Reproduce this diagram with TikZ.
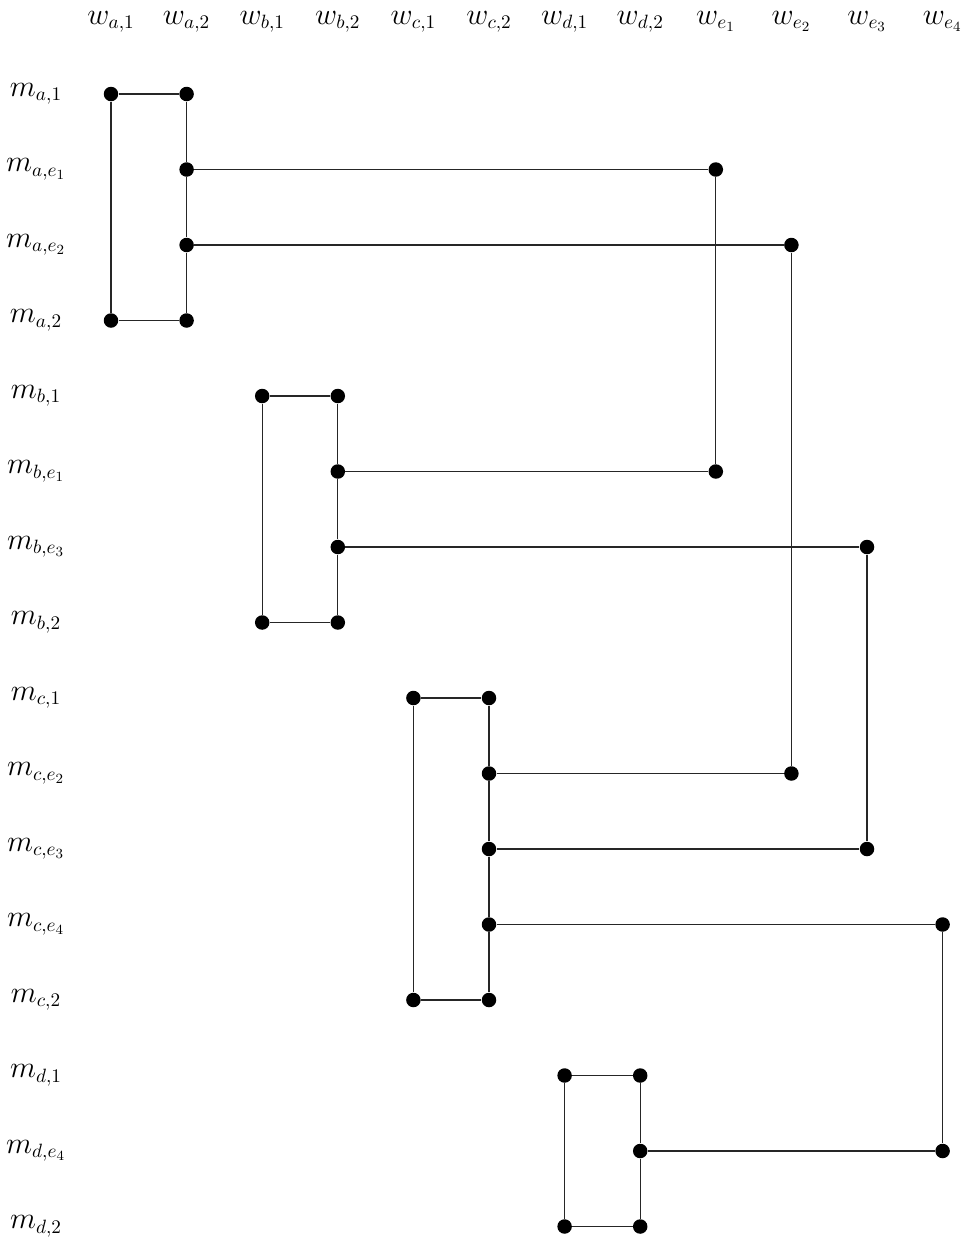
\documentclass[tikz,border=0pt]{standalone}
\begin{document}
\begin{tikzpicture}[x=0.02cm,y=-0.02cm,
  dotnode/.style={circle,fill=black,inner sep=0pt,minimum size=0.29cm},
  edge/.style={draw=black!85,line width=0.6pt},
  lbl/.style={inner sep=0pt,font=\fontsize{16}{19}\selectfont}]
\useasboundingbox (0,0) rectangle (971,1242);
% column labels
\foreach \i/\t in {0/{w_{a,1}},1/{w_{a,2}},2/{w_{b,1}},3/{w_{b,2}},4/{w_{c,1}},5/{w_{c,2}},6/{w_{d,1}},7/{w_{d,2}},8/{w_{e_1}},9/{w_{e_2}},10/{w_{e_3}},11/{w_{e_4}}}
  \node[lbl,anchor=base] (c\i) at ({111+75.6*\i},24) {$\t$};
% row labels
\foreach \j/\t in {0/{m_{a,1}},1/{m_{a,e_1}},2/{m_{a,e_2}},3/{m_{a,2}},4/{m_{b,1}},5/{m_{b,e_1}},6/{m_{b,e_3}},7/{m_{b,2}},8/{m_{c,1}},9/{m_{c,e_2}},10/{m_{c,e_3}},11/{m_{c,e_4}},12/{m_{c,2}},13/{m_{d,1}},14/{m_{d,e_4}},15/{m_{d,2}}}
  \node[lbl] (r\j) at (36,{94+75.5*\j}) {$\t$};
% dots: column/row
\foreach \i/\j in {0/0,1/0,1/1,1/2,0/3,1/3,8/1,9/2,
                   2/4,3/4,3/5,3/6,2/7,3/7,8/5,10/6,
                   4/8,5/8,5/9,5/10,5/11,4/12,5/12,9/9,10/10,11/11,
                   6/13,7/13,7/14,6/15,7/15,11/14}
  \node[dotnode] (p\i-\j) at ({111+75.6*\i},{94+75.5*\j}) {};
% a block
\draw[edge] (p0-0) -- (p1-0);
\draw[edge] (p0-3) -- (p1-3);
\draw[edge] (p0-0) -- (p0-3);
\draw[edge] (p1-0) -- (p1-1) -- (p1-2) -- (p1-3);
\draw[edge] (p1-1) -- (p8-1);
\draw[edge] (p1-2) -- (p9-2);
\draw[edge] (p8-1) -- (p8-5);
\draw[edge] (p9-2) -- (p9-9);
% b block
\draw[edge] (p2-4) -- (p3-4);
\draw[edge] (p2-7) -- (p3-7);
\draw[edge] (p2-4) -- (p2-7);
\draw[edge] (p3-4) -- (p3-5) -- (p3-6) -- (p3-7);
\draw[edge] (p3-5) -- (p8-5);
\draw[edge] (p3-6) -- (p10-6);
\draw[edge] (p10-6) -- (p10-10);
% c block
\draw[edge] (p4-8) -- (p5-8);
\draw[edge] (p4-12) -- (p5-12);
\draw[edge] (p4-8) -- (p4-12);
\draw[edge] (p5-8) -- (p5-9) -- (p5-10) -- (p5-11) -- (p5-12);
\draw[edge] (p5-9) -- (p9-9);
\draw[edge] (p5-10) -- (p10-10);
\draw[edge] (p5-11) -- (p11-11);
\draw[edge] (p11-11) -- (p11-14);
% d block
\draw[edge] (p6-13) -- (p7-13);
\draw[edge] (p6-15) -- (p7-15);
\draw[edge] (p6-13) -- (p6-15);
\draw[edge] (p7-13) -- (p7-14) -- (p7-15);
\draw[edge] (p7-14) -- (p11-14);
\end{tikzpicture}
\end{document}
